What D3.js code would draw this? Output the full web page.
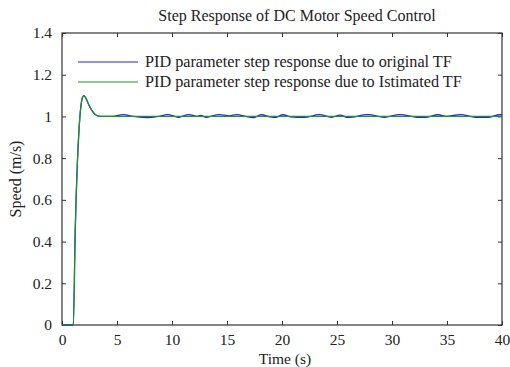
<!DOCTYPE html>
<html>
<head>
<meta charset="utf-8">
<title>Step Response of DC Motor Speed Control</title>
<script src="https://d3js.org/d3.v7.min.js"></script>
<style>
    body { margin: 0; background: #fff; }
    svg text { font-family: "Liberation Serif", "Times New Roman", serif; fill: #222; }
    .axis path, .axis line { stroke: #333; }
</style>
</head>
<body>
<svg width="510" height="367"></svg>
<script>
// time (s) and speed (m/s)
const tOrig = [0, 1.0, 1.03, 1.2, 1.4, 1.55, 1.7, 1.85, 2.0, 2.15, 2.4, 2.7, 3.0, 3.3, 3.6, 4.0,
    4.6, 5.6, 6.3, 7.7, 8.8, 9.6, 10.6, 11.5, 12.3, 12.6, 13.1, 14.3, 15.2, 15.9, 16.7, 17.4, 18.1,
    18.9, 19.4, 20.1, 20.8, 22, 23.4, 24.5, 25.3, 26, 27.8, 29.3, 30.7, 32.3, 33, 34.2, 34.95,
    36.2, 37.6, 38.7, 39.8, 40];
const vOrig = [0, 0, 0, 0.45, 0.78, 0.94, 1.04, 1.09, 1.10, 1.09, 1.06, 1.03, 1.01, 1.002, 1.0, 1.0,
    1.0, 1.009, 1.001, 0.994, 1.0, 1.009, 0.996, 1.009, 1.0, 1.005, 0.996, 1.009, 1.003, 1.009, 1.0, 0.994, 1.008,
    0.998, 0.995, 1.008, 0.998, 0.995, 1.009, 0.996, 1.006, 0.995, 1.009, 0.996, 1.009, 0.996, 0.995, 1.008, 1.0,
    1.009, 0.996, 0.995, 1.008, 1.008];

const tEst = [0, 1.0, 1.03, 1.2, 1.4, 1.55, 1.7, 1.85, 2.0, 2.15, 2.4, 2.7, 3.0, 3.3, 3.6, 4.0, 40];
const vEst = [0, 0, 0, 0.45, 0.78, 0.94, 1.04, 1.09, 1.10, 1.09, 1.06, 1.03, 1.01, 1.002, 1.0, 1.0, 1.0];

const xTicks = [0, 5, 10, 15, 20, 25, 30, 35, 40];
const yTicks = [0, 0.2, 0.4, 0.6, 0.8, 1, 1.2, 1.4];
const legendNames = ["PID parameter step response due to original TF",
    "PID parameter step response due to Istimated TF"];
const colors = ["#2020f0", "#1a9a1a"];

const svg = d3.select("svg");
const m = { left: 62, right: 8, top: 33, bottom: 42 };
const W = 510 - m.left - m.right, H = 367 - m.top - m.bottom;

const x = d3.scaleLinear().domain([0, 40]).range([m.left, m.left + W]);
const y = d3.scaleLinear().domain([0, 1.4]).range([m.top + H, m.top]);

// box
svg.append("rect").attr("x", m.left).attr("y", m.top).attr("width", W).attr("height", H)
    .attr("fill", "none").attr("stroke", "#333").attr("stroke-width", 1.2);

// axes with inward ticks
const fmtY = d => d === 0 ? "0" : d3.format("")(+d.toFixed(1));
svg.append("g").attr("class", "axis").attr("transform", `translate(0,${m.top + H})`)
    .call(d3.axisBottom(x).tickValues(xTicks).tickSizeInner(-4).tickSizeOuter(0).tickPadding(9))
    .call(g => g.select(".domain").remove())
    .call(g => g.selectAll("text").attr("font-size", 15.5));
svg.append("g").attr("class", "axis").attr("transform", `translate(0,${m.top})`)
    .call(d3.axisTop(x).tickValues(xTicks).tickSizeInner(-4).tickSizeOuter(0).tickFormat(""))
    .call(g => g.select(".domain").remove());
svg.append("g").attr("class", "axis").attr("transform", `translate(${m.left},0)`)
    .call(d3.axisLeft(y).tickValues(yTicks).tickSizeInner(-4).tickSizeOuter(0).tickPadding(10).tickFormat(fmtY))
    .call(g => g.select(".domain").remove())
    .call(g => g.selectAll("text").attr("font-size", 15.5));
svg.append("g").attr("class", "axis").attr("transform", `translate(${m.left + W},0)`)
    .call(d3.axisRight(y).tickValues(yTicks).tickSizeInner(-4).tickSizeOuter(0).tickFormat(""))
    .call(g => g.select(".domain").remove());

// lines
const line = d3.line().x(d => x(d[0])).y(d => y(d[1])).curve(d3.curveMonotoneX);
svg.append("path").datum(d3.zip(tOrig, vOrig)).attr("d", line)
    .attr("fill", "none").attr("stroke", colors[0]).attr("stroke-width", 1.3);
svg.append("path").datum(d3.zip(tEst, vEst)).attr("d", line)
    .attr("fill", "none").attr("stroke", colors[1]).attr("stroke-width", 1.2);

// legend
legendNames.forEach((name, i) => {
    const ly = 62 + i * 20;
    svg.append("line").attr("x1", 78).attr("x2", 138).attr("y1", ly).attr("y2", ly)
        .attr("stroke", colors[i]).attr("stroke-width", 1.2);
    svg.append("text").attr("x", 145).attr("y", ly + 5).attr("font-size", 16.2).text(name);
});

// title and axis labels
svg.append("text").attr("x", 297).attr("y", 21).attr("text-anchor", "middle")
    .attr("font-size", 16).text("Step Response of DC Motor Speed Control");
svg.append("text").attr("x", 285).attr("y", 364).attr("text-anchor", "middle")
    .attr("font-size", 15.5).text("Time (s)");
svg.append("text").attr("transform", `translate(21,${m.top + H / 2}) rotate(-90)`)
    .attr("text-anchor", "middle").attr("font-size", 16).text("Speed (m/s)");
</script>
</body>
</html>
